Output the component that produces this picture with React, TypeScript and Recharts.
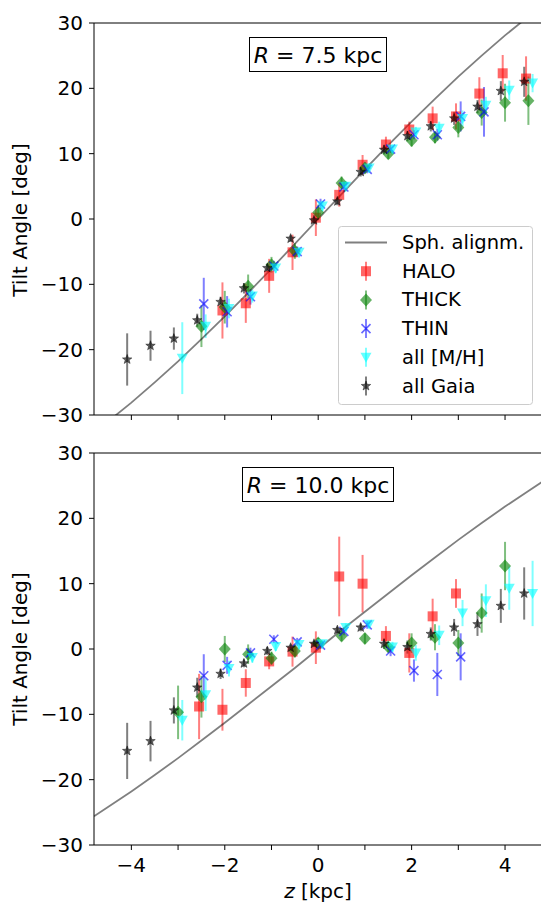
import React from 'react';
import { ScatterChart, Scatter, XAxis, YAxis, ErrorBar, ReferenceLine } from 'recharts';

// [z (kpc), tilt (deg), error (deg)]
type Pt = [number, number, number];

const FONT = 'DejaVu Sans';

const xTicks = [-4, -3, -2, -1, 0, 1, 2, 3, 4];
const yTicks = [-30, -20, -10, 0, 10, 20, 30];

// spherical alignment curves
const sphZ = [-4.8, -4.5, -4, -3.5, -3, -2.5, -2, -1.5, -1, -0.5, 0, 0.5, 1, 1.5, 2, 2.5, 3, 3.5, 4, 4.5, 4.8];
const sph75 = [-32.6, -31.0, -28.1, -25.0, -21.8, -18.4, -14.9, -11.3, -7.6, -3.8, 0, 3.8, 7.6, 11.3, 14.9, 18.4, 21.8, 25.0, 28.1, 31.0, 32.6];
const sph100 = [-25.6, -24.2, -21.8, -19.3, -16.7, -14.0, -11.3, -8.5, -5.7, -2.9, 0, 2.9, 5.7, 8.5, 11.3, 14.0, 16.7, 19.3, 21.8, 24.2, 25.6];

// R = 7.5 kpc
const halo75: Pt[] = [[-2.05, -14.0, 4.3], [-1.55, -12.9, 3.0], [-1.05, -8.7, 2.6], [-0.55, -5.1, 2.7], [-0.05, 0.2, 2.8], [0.45, 3.7, 1.8], [0.95, 8.3, 1.5], [1.45, 11.4, 1.2], [1.95, 13.7, 1.2], [2.45, 15.4, 1.8], [2.95, 15.7, 2.0], [3.45, 19.2, 2.5], [3.95, 22.3, 2.8], [4.45, 21.5, 3.4]];
const thick75: Pt[] = [[-2.5, -16.4, 3.2], [-2, -13.5, 2.5], [-1.5, -10.3, 1.8], [-1, -7.0, 1.2], [-0.5, -4.9, 1.2], [0, 1.0, 1.2], [0.5, 5.5, 1.0], [1, 7.8, 0.8], [1.5, 10.0, 0.8], [2, 12.0, 0.9], [2.5, 12.5, 0.9], [3, 14.0, 1.5], [3.5, 16.3, 2.0], [4, 17.8, 2.9], [4.5, 18.1, 3.7]];
const thin75: Pt[] = [[-2.45, -13.0, 4.0], [-1.95, -14.2, 2.4], [-1.45, -11.9, 1.2], [-0.95, -7.2, 0.8], [-0.45, -5.0, 0.8], [0.05, 2.3, 0.8], [0.55, 4.9, 0.8], [1.05, 7.6, 0.6], [1.55, 10.7, 0.6], [2.05, 12.9, 0.7], [2.55, 12.9, 0.9], [3.05, 15.7, 2.3], [3.55, 16.4, 3.8]];
const mh75: Pt[] = [[-2.91, -21.3, 5.5], [-2.41, -16.4, 1.8], [-1.91, -13.7, 1.5], [-1.41, -11.8, 1.0], [-0.91, -7.5, 0.8], [-0.41, -5.1, 0.8], [0.09, 2.0, 0.8], [0.59, 5.0, 0.8], [1.09, 7.8, 0.7], [1.59, 10.7, 0.7], [2.09, 13.3, 0.8], [2.59, 13.9, 1.0], [3.09, 15.4, 1.2], [3.59, 17.4, 1.3], [4.09, 19.7, 1.5], [4.59, 20.8, 1.4]];
const gaia75: Pt[] = [[-4.09, -21.5, 4.0], [-3.59, -19.4, 2.3], [-3.09, -18.3, 1.7], [-2.59, -15.5, 1.0], [-2.09, -12.7, 0.8], [-1.59, -10.6, 0.8], [-1.09, -7.5, 0.6], [-0.59, -3.0, 0.5], [-0.09, -0.2, 0.5], [0.41, 2.7, 0.6], [0.91, 7.2, 0.7], [1.41, 10.6, 0.7], [1.91, 12.7, 0.8], [2.41, 14.2, 0.8], [2.91, 15.4, 1.0], [3.41, 17.2, 1.0], [3.91, 19.6, 1.5], [4.41, 21.0, 2.3]];

// R = 10.0 kpc
const halo100: Pt[] = [[-2.55, -8.8, 5.0], [-2.05, -9.3, 3.2], [-1.55, -5.2, 2.1], [-1.05, -1.9, 1.2], [-0.55, -0.4, 2.3], [-0.05, 0.2, 2.5], [0.45, 11.1, 6.1], [0.95, 10.0, 4.4], [1.45, 2.0, 1.5], [1.95, -0.6, 3.0], [2.45, 5.0, 2.7], [2.95, 8.5, 2.2]];
const thick100: Pt[] = [[-3, -9.7, 4.1], [-2.5, -7.3, 3.2], [-2, 0.0, 2.0], [-1.5, -0.8, 1.5], [-1, -1.4, 1.0], [-0.5, -0.3, 1.0], [0, 0.9, 0.8], [0.5, 2.0, 0.8], [1, 1.6, 0.8], [1.5, 0.3, 0.8], [2, 0.9, 1.5], [2.5, 1.8, 2.0], [3, 0.9, 2.0], [3.5, 5.5, 3.0], [4, 12.7, 3.7]];
const thin100: Pt[] = [[-2.45, -4.1, 3.3], [-1.95, -2.5, 1.3], [-1.45, -0.6, 0.8], [-0.95, 1.5, 0.6], [-0.45, 1.1, 0.6], [0.05, 0.6, 0.6], [0.55, 2.7, 0.6], [1.05, 3.7, 0.6], [1.55, -0.3, 0.8], [2.05, -3.3, 1.7], [2.55, -3.9, 3.3], [3.05, -1.2, 3.6]];
const mh100: Pt[] = [[-2.91, -10.9, 3.1], [-2.41, -7.0, 2.5], [-1.91, -3.0, 1.2], [-1.41, -1.3, 0.8], [-0.91, 0.4, 0.7], [-0.41, 0.7, 0.7], [0.09, 0.8, 0.6], [0.59, 3.3, 0.6], [1.09, 3.8, 0.6], [1.59, 0.3, 0.8], [2.09, -0.6, 1.2], [2.59, 2.1, 1.5], [3.09, 5.5, 2.0], [3.59, 7.4, 2.5], [4.09, 9.3, 3.3], [4.59, 8.5, 5.0]];
const gaia100: Pt[] = [[-4.09, -15.6, 4.3], [-3.59, -14.1, 3.1], [-3.09, -9.4, 2.0], [-2.59, -5.9, 1.5], [-2.09, -3.8, 0.8], [-1.59, -2.2, 0.6], [-1.09, -0.3, 0.6], [-0.59, 0.2, 0.5], [-0.09, 0.8, 0.5], [0.41, 2.9, 0.5], [0.91, 3.3, 0.6], [1.41, 0.8, 0.8], [1.91, 0.3, 1.0], [2.41, 2.3, 1.0], [2.91, 3.3, 1.3], [3.41, 3.8, 1.8], [3.91, 6.6, 2.6], [4.41, 8.5, 4.0]];

const rows = (pts: Pt[]) => pts.map(([z, t, e]) => ({ z, t, e }));
const curve = (ts: number[]) => sphZ.map((z, i) => ({ z, t: ts[i] }));

const fmtNum = (v: number) => (v < 0 ? `\u2212${Math.abs(v)}` : `${v}`);

// marker shapes
const A = 0.6;
const square = (cx: number, cy: number) => (
  <rect x={cx - 5} y={cy - 5} width={10} height={10} fill="#ff0000" fillOpacity={A} />
);
const diamond = (cx: number, cy: number) => (
  <polygon points={`${cx},${cy - 6.5} ${cx + 6},${cy} ${cx},${cy + 6.5} ${cx - 6},${cy}`} fill="#008000" fillOpacity={A} />
);
const cross = (cx: number, cy: number) => (
  <path d={`M${cx - 4.5},${cy - 4.5}L${cx + 4.5},${cy + 4.5}M${cx - 4.5},${cy + 4.5}L${cx + 4.5},${cy - 4.5}`} stroke="#0000ff" strokeOpacity={A} strokeWidth={1.6} fill="none" />
);
const triDown = (cx: number, cy: number) => (
  <polygon points={`${cx - 5.5},${cy - 4.5} ${cx + 5.5},${cy - 4.5} ${cx},${cy + 5.5}`} fill="#00ffff" fillOpacity={A} />
);
const star = (cx: number, cy: number) => {
  const pts = Array.from({ length: 10 }, (_, i) => {
    const a = -Math.PI / 2 + (i * Math.PI) / 5;
    const r = i % 2 === 0 ? 5 : 2.1;
    return `${cx + r * Math.cos(a)},${cy + r * Math.sin(a)}`;
  }).join(' ');
  return <polygon points={pts} fill="#000" fillOpacity={0.62} stroke="#000" strokeOpacity={0.5} strokeWidth={0.8} />;
};

const series = [
  { name: 'HALO', color: '#ff0000', mark: square },
  { name: 'THICK', color: '#008000', mark: diamond },
  { name: 'THIN', color: '#0000ff', mark: cross },
  { name: 'all [M/H]', color: '#00ffff', mark: triDown },
  { name: 'all Gaia', color: '#000000', mark: star },
];

const axisTick = { fill: '#000', fontSize: 20, fontFamily: FONT };

interface PanelProps {
  height: number;
  xAxisH: number;
  showXLabels: boolean;
  sph: number[];
  sets: Pt[][];
}

const Panel = ({ height, xAxisH, showXLabels, sph, sets }: PanelProps) => (
  <ScatterChart width={542} height={height} margin={{ top: 23, right: 1, bottom: 0, left: 0 }}>
    <XAxis
      type="number"
      dataKey="z"
      domain={[-4.8, 4.77]}
      ticks={xTicks}
      interval={0}
      allowDataOverflow
      height={xAxisH}
      stroke="#000"
      tickSize={5}
      tickMargin={8}
      tick={axisTick}
      tickFormatter={(v: number) => (showXLabels && v % 2 === 0 ? fmtNum(v) : '')}
    />
    <YAxis
      type="number"
      dataKey="t"
      domain={[-30, 30]}
      ticks={yTicks}
      interval={0}
      allowDataOverflow
      width={94}
      stroke="#000"
      tickSize={5}
      tickMargin={6}
      tick={axisTick}
      tickFormatter={fmtNum}
    />
    <ReferenceLine y={30} stroke="#000" />
    <Scatter
      name="Sph. alignm."
      data={curve(sph)}
      line={{ stroke: '#000', strokeOpacity: 0.5, strokeWidth: 1.8 }}
      lineType="joint"
      shape={() => <g />}
      isAnimationActive={false}
    />
    {series.map((s, i) => (
      <Scatter
        key={s.name}
        name={s.name}
        data={rows(sets[i])}
        shape={(p: any) => s.mark(p.cx, p.cy)}
        isAnimationActive={false}
      >
        <ErrorBar dataKey="e" direction="y" width={0} stroke={s.color} strokeOpacity={0.5} strokeWidth={2} />
      </Scatter>
    ))}
  </ScatterChart>
);

const legendRows = [{ name: 'Sph. alignm.' }, ...series];

const Overlay = () => (
  <svg width={542} height={902} style={{ position: 'absolute', left: 0, top: 0, pointerEvents: 'none' }} fontFamily={FONT}>
    {/* y labels */}
    <text x={20} y={220} fontSize={20} textAnchor="middle" dominantBaseline="central" transform="rotate(-90 20 220)">Tilt Angle [deg]</text>
    <text x={20} y={649} fontSize={20} textAnchor="middle" dominantBaseline="central" transform="rotate(-90 20 649)">Tilt Angle [deg]</text>
    {/* x label */}
    <text x={318} y={898} fontSize={20} textAnchor="middle">
      <tspan fontStyle="italic">z</tspan> [kpc]
    </text>
    {/* R boxes */}
    <rect x={249.5} y={37.5} width={137} height={34} fill="#fff" stroke="#000" strokeWidth={1} />
    <text x={318} y={55} fontSize={22} textAnchor="middle" dominantBaseline="central">
      <tspan fontStyle="italic">R</tspan> = 7.5 kpc
    </text>
    <rect x={242.5} y={467.5} width={151} height={34} fill="#fff" stroke="#000" strokeWidth={1} />
    <text x={318} y={485} fontSize={22} textAnchor="middle" dominantBaseline="central">
      <tspan fontStyle="italic">R</tspan> = 10.0 kpc
    </text>
    {/* legend */}
    <rect x={338.5} y={226.5} width={194} height={178} rx={3} fill="#fff" fillOpacity={0.8} stroke="#ccc" strokeWidth={1} />
    {legendRows.map((r: any, i) => {
      const cy = 242.5 + i * 28.7;
      return (
        <g key={r.name}>
          {i === 0 ? (
            <line x1={345} x2={387} y1={cy} y2={cy} stroke="#000" strokeOpacity={0.5} strokeWidth={1.8} />
          ) : (
            <g>
              <line x1={366} x2={366} y1={cy - 9.5} y2={cy + 9.5} stroke={r.color} strokeOpacity={0.5} strokeWidth={2} />
              {r.mark(366, cy)}
            </g>
          )}
          <text x={402} y={cy} fontSize={19.5} dominantBaseline="central">{r.name}</text>
        </g>
      );
    })}
  </svg>
);

export default function App() {
  return (
    <div style={{ position: 'absolute', left: 0, top: 0, width: 542, height: 902, background: '#fff' }}>
      <div style={{ position: 'absolute', left: 0, top: 0 }}>
        <Panel height={432} xAxisH={17} showXLabels={false} sph={sph75} sets={[halo75, thick75, thin75, mh75, gaia75]} />
      </div>
      <div style={{ position: 'absolute', left: 0, top: 430 }}>
        <Panel height={472} xAxisH={57} showXLabels sph={sph100} sets={[halo100, thick100, thin100, mh100, gaia100]} />
      </div>
      <Overlay />
    </div>
  );
}
